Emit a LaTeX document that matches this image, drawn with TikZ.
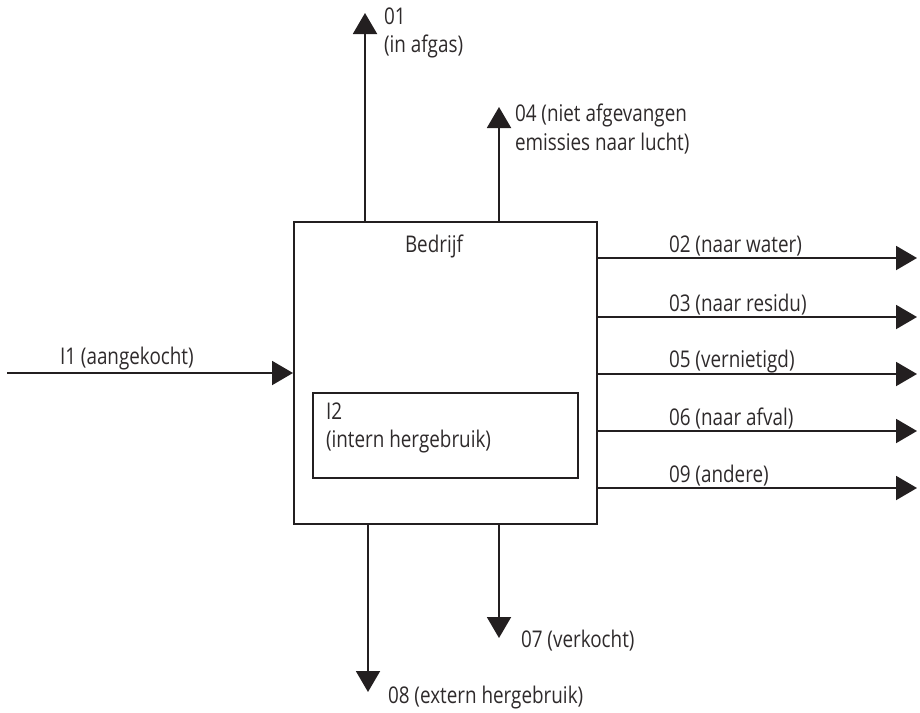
\documentclass[tikz,border=0pt]{standalone}
\usepackage{fontspec}
\setmainfont{Open Sans}[FakeStretch=0.82]
\usetikzlibrary{arrows.meta}
\definecolor{ink}{HTML}{231F20}
\definecolor{txt}{HTML}{2E2A2B}
\begin{document}
\begin{tikzpicture}[x=1pt,y=-1pt,
  line width=2pt, draw=ink,
  flow/.style={draw=ink,-{Triangle[length=21pt,width=24pt]}},
  lbl/.style={anchor=west,inner sep=0pt,font=\fontsize{23}{28.5}\selectfont,text=txt,align=left},
  boxnode/.style={draw=ink,rectangle,inner sep=0pt,anchor=north west}]
\useasboundingbox (0,0) rectangle (920,712);
% company box and internal reuse box
\node[boxnode,minimum width=303pt,minimum height=302pt] (bed) at (293,221) {};
\node[boxnode,minimum width=265pt,minimum height=85pt] (intern) at (312,392) {};
\node[lbl,anchor=center] (bedlbl) at (434,246) {Bedrijf};
\node[lbl] (i2lbl) at (325,428) {I2\\(intern hergebruik)};
% upward flows
\coordinate (o1) at (365,13);
\coordinate (o4) at (499,107);
\draw[flow] (bed.north -| o1) -- (o1);
\draw[flow] (bed.north -| o4) -- (o4);
\node[lbl] (o1lbl) at (383,33) {01\\(in afgas)};
\node[lbl] (o4lbl) at (514,129) {04 (niet afgevangen\\emissies naar lucht)};
% incoming flow
\coordinate (i1) at (7,373);
\draw[flow] (i1) -- (bed.west |- i1);
\node[lbl] (i1lbl) at (59,359) {I1 (aangekocht)};
% outgoing flows to the right
\foreach \n/\y/\t in {o2/258/02 (naar water),o3/317/03 (naar residu),o5/374/05 (vernietigd),o6/431/06 (naar afval),o9/488/09 (andere)}{
  \coordinate (\n) at (917,\y);
  \draw[flow] (bed.east |- \n) -- (\n);
  \node[lbl] (\n lbl) at (668,\y-12) {\t};
}
% downward flows
\coordinate (o8) at (368,692);
\coordinate (o7) at (499,638);
\draw[flow] (bed.south -| o8) -- (o8);
\draw[flow] (bed.south -| o7) -- (o7);
\node[lbl] (o7lbl) at (520,641) {07 (verkocht)};
\node[lbl] (o8lbl) at (387,698) {08 (extern hergebruik)};
\end{tikzpicture}
\end{document}
